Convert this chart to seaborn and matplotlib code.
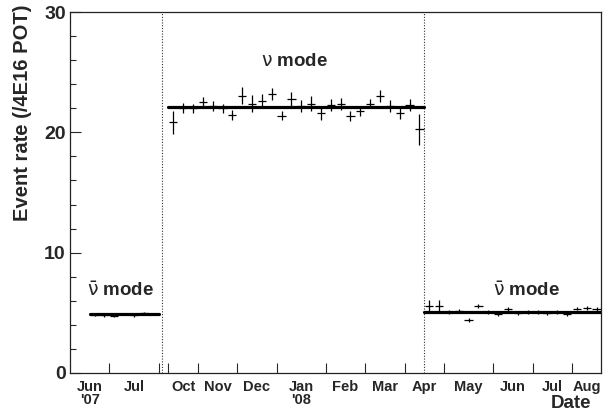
import matplotlib
matplotlib.use("Agg")
import matplotlib.pyplot as plt
import seaborn as sns
import pandas as pd
import numpy as np

# ---------------- data (x in weeks from start of axis) ----------------
anu1_weeks = [2.5, 3.5, 4.5, 5.5, 6.5, 7.5, 8.5]
anu1_rate = [4.85, 4.8, 4.75, 4.9, 4.8, 4.95, 4.9]
anu1_err = [0.12, 0.12, 0.12, 0.12, 0.12, 0.12, 0.12]

nu_weeks = [10.5, 11.5, 12.5, 13.5, 14.5, 15.5, 16.5, 17.5, 18.5, 19.5, 20.5, 21.5, 22.5,
            23.5, 24.5, 25.5, 26.5, 27.5, 28.5, 29.5, 30.5, 31.5, 32.5, 33.5, 34.5, 35.5]
nu_rate = [20.85, 22.05, 22.0, 22.5, 22.2, 22.0, 21.45, 23.05, 22.4, 22.6, 23.2, 21.4, 22.75,
           22.2, 22.4, 21.6, 22.3, 22.35, 21.35, 21.8, 22.4, 23.0, 22.2, 21.65, 22.3, 20.25]
nu_err = [0.95, 0.4, 0.4, 0.4, 0.4, 0.4, 0.4, 0.7, 0.7, 0.6, 0.5, 0.4, 0.6,
          0.5, 0.6, 0.6, 0.5, 0.5, 0.4, 0.4, 0.4, 0.5, 0.5, 0.5, 0.5, 1.3]

anu2_weeks = [36.5, 37.5, 38.5, 39.5, 40.5, 41.5, 42.5, 43.5, 44.5,
              45.5, 46.5, 47.5, 48.5, 49.5, 50.5, 51.5, 52.5, 53.5]
anu2_rate = [5.6, 5.6, 5.07, 5.15, 4.4, 5.57, 5.07, 4.9, 5.3,
             5.0, 5.05, 5.05, 4.95, 5.05, 4.9, 5.35, 5.4, 5.3]
anu2_err = [0.45, 0.45, 0.2, 0.2, 0.2, 0.2, 0.15, 0.2, 0.15,
            0.15, 0.15, 0.15, 0.15, 0.15, 0.2, 0.15, 0.15, 0.15]

fit_segment = ["anu1", "anu1", "nu", "nu", "anu2", "anu2"]
fit_weeks = [2, 9, 10, 36, 36, 54]
fit_rate = [4.9, 4.9, 22.1, 22.1, 5.07, 5.07]

mode_switch_weeks = [9.4, 36]

month_edges = [0, 4, 9, 10, 13, 17, 21, 26, 30, 34, 38, 43, 47, 51, 54]
month_labels = ["Jun\n'07", "Jul", "", "Oct", "Nov", "Dec", "Jan\n'08", "Feb",
                "Mar", "Apr", "May", "Jun", "Jul", "Aug"]

# ---------------- style ----------------
sns.set_style("ticks")
plt.rcParams['font.family'] = ['Liberation Sans', 'DejaVu Sans']
plt.rcParams['mathtext.fontset'] = 'dejavusans'

fig = plt.figure(figsize=(6.03, 4.12), dpi=100)
ax = fig.add_axes([0.116, 0.0947, 0.8815, 0.876])

fit_df = pd.DataFrame({"segment": fit_segment, "week": fit_weeks, "rate": fit_rate})
sns.lineplot(data=fit_df, x="week", y="rate", units="segment", estimator=None,
             color="black", lw=2.3, ax=ax, zorder=3)

for w, r, e in [(anu1_weeks, anu1_rate, anu1_err),
                (nu_weeks, nu_rate, nu_err),
                (anu2_weeks, anu2_rate, anu2_err)]:
    ax.errorbar(w, r, yerr=e, xerr=0.42, fmt="none", ecolor="black",
                elinewidth=0.9, capsize=0, zorder=4)

for xw in mode_switch_weeks:
    ax.axvline(xw, color="#333333", lw=0.8, ls=(0, (1, 1.5)), zorder=2)

ax.set_xlim(0, 54)
ax.set_ylim(0, 30)

# x ticks: month boundaries (major, no labels), month names at centers (minor)
ax.set_xticks(month_edges[1:-1])
ax.set_xticklabels([])
mids = [(a + b) / 2 for a, b in zip(month_edges[:-1], month_edges[1:])]
ax.set_xticks(mids, minor=True)
ax.set_xticklabels(month_labels, minor=True, fontsize=10.5, fontweight="bold",
                   linespacing=0.95, va="top")
ax.tick_params(axis="x", which="major", direction="in", length=7.5, width=0.8)
ax.tick_params(axis="x", which="minor", length=0, pad=5)

ax.set_yticks([0, 10, 20, 30])
ax.set_yticks(np.arange(0, 31, 2), minor=True)
ax.set_yticklabels(["0", "10", "20", "30"], fontsize=14, fontweight="bold")
ax.tick_params(axis="y", which="major", direction="in", length=8, width=0.8, pad=3)
ax.tick_params(axis="y", which="minor", direction="in", length=4.5, width=0.8)

for s in ax.spines.values():
    s.set_visible(True)
    s.set_linewidth(0.9)
    s.set_color("#222222")

ax.set_xlabel("")
ax.set_ylabel("")

ax.text(22.8, 25.9, r"$\mathrm{\nu}$ mode", fontsize=13.5, fontweight="bold",
        ha="center", va="center")
ax.text(5.1, 6.85, r"$\bar{\mathrm{\nu}}$ mode", fontsize=13.5, fontweight="bold",
        ha="center", va="center")
ax.text(46.4, 6.85, r"$\bar{\mathrm{\nu}}$ mode", fontsize=13.5, fontweight="bold",
        ha="center", va="center")

fig.text(0.981, 0.0, "Date", fontsize=13.5, fontweight="bold", ha="right", va="bottom")
fig.text(0.037, 0.99, "Event rate (/4E16 POT)", fontsize=14.5, fontweight="bold",
         rotation=90, ha="center", va="top")

fig.savefig("out.png", dpi=100)
